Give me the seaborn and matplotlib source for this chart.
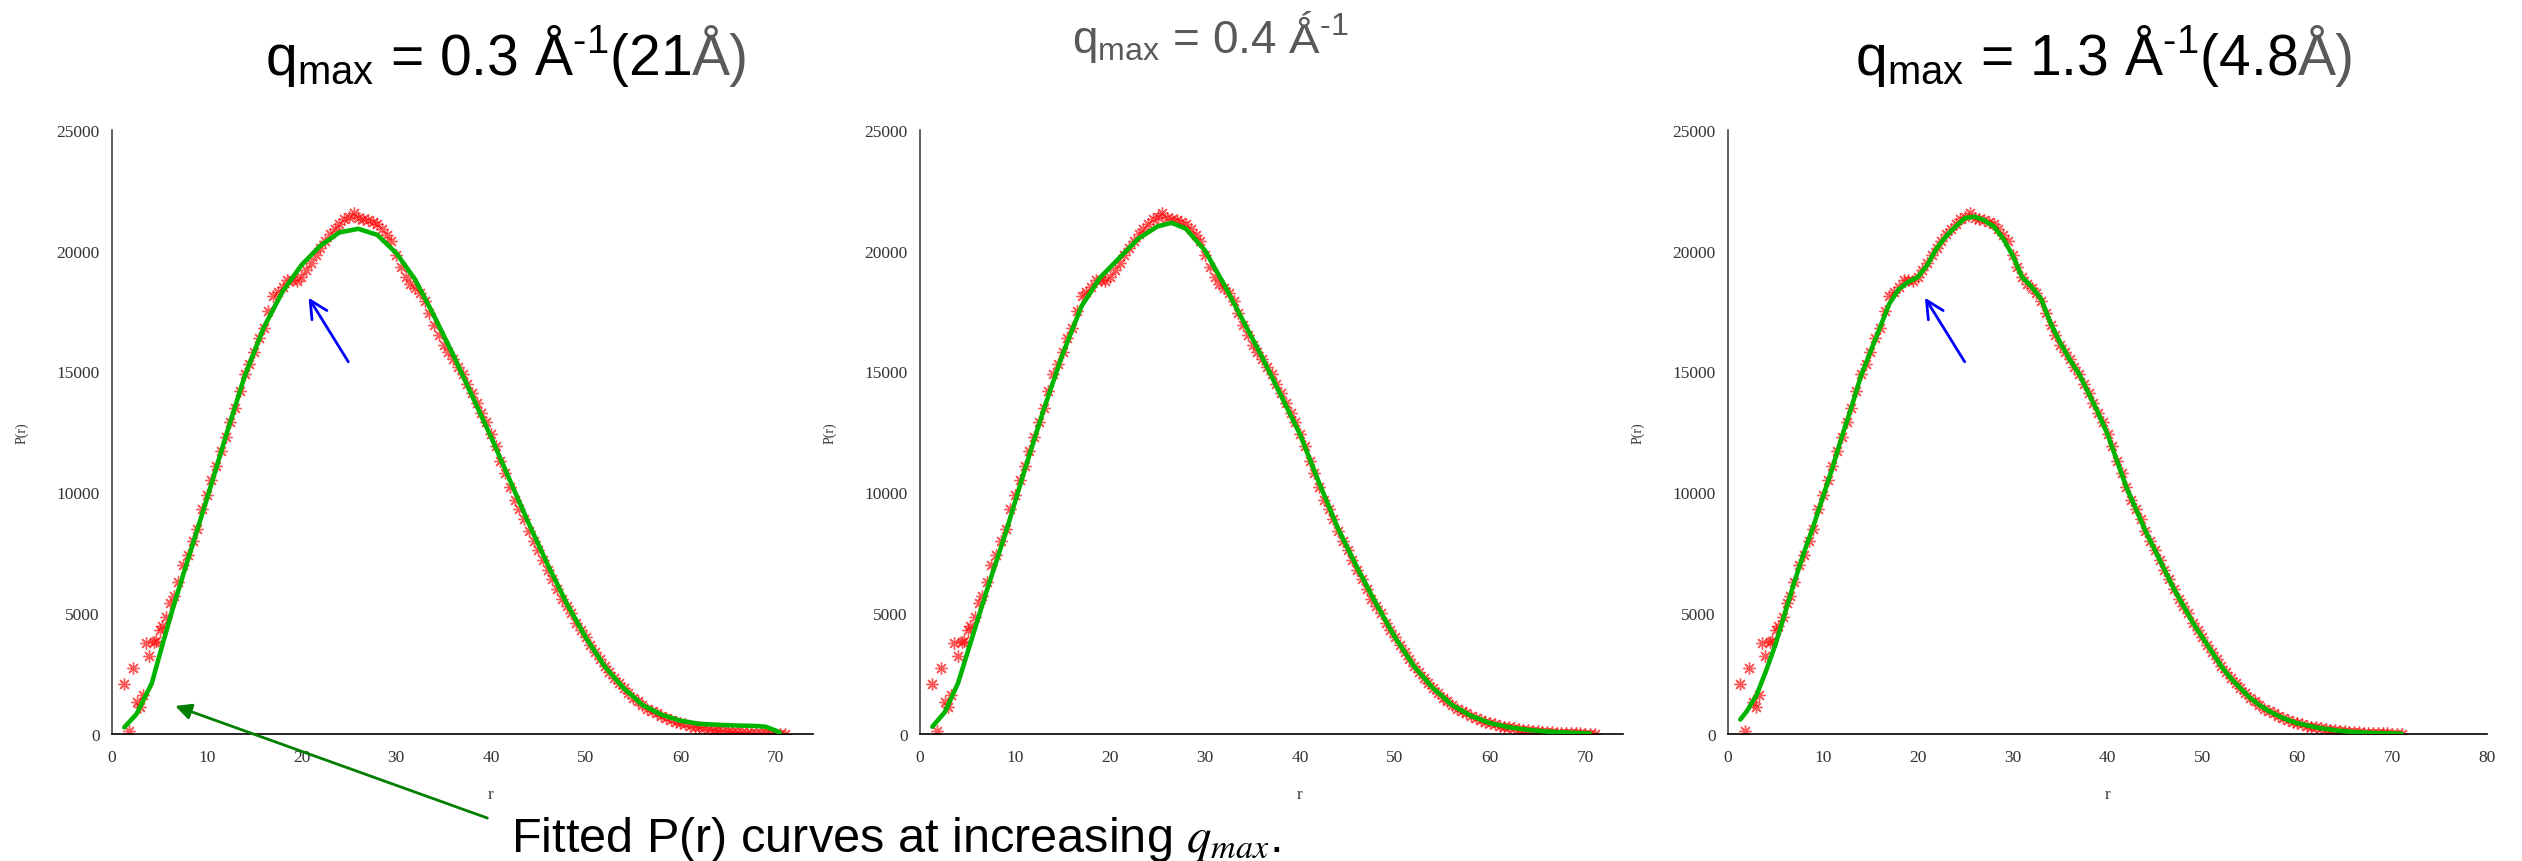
import matplotlib
matplotlib.use('Agg')
from matplotlib import pyplot as plt
from matplotlib import transforms
import seaborn as sns
import pandas as pd

# measured P(r) (red asterisks, identical in all three panels)
r_data = [1.26, 1.82, 2.24, 2.6, 2.95, 3.3, 3.54, 3.95, 4.42, 4.6, 5.05, 5.3, 5.75, 6.17,
          6.5, 7.0, 7.5, 8.0, 8.5, 9.0, 9.5, 10.0, 10.5, 11.0, 11.5, 12.0, 12.5, 13.0, 13.5,
          14.0, 14.5, 15.0, 15.5, 16.0, 16.5, 17.0, 17.5, 18.0, 18.5, 19.0, 19.5, 20.0, 20.5,
          21.0, 21.5, 22.0, 22.5, 23.0, 23.5, 24.0, 24.5, 25.0, 25.5, 26.0, 26.5, 27.0, 27.5,
          28.0, 28.5, 29.0, 29.5, 30.0, 30.5, 31.0, 31.5, 32.0, 32.5, 33.0, 33.5, 34.0, 34.5,
          35.0, 35.5, 36.0, 36.5, 37.0, 37.5, 38.0, 38.5, 39.0, 39.5, 40.0, 40.5, 41.0, 41.5,
          42.0, 42.5, 43.0, 43.5, 44.0, 44.5, 45.0, 45.5, 46.0, 46.5, 47.0, 47.5, 48.0, 48.5,
          49.0, 49.5, 50.0, 50.5, 51.0, 51.5, 52.0, 52.5, 53.0, 53.5, 54.0, 54.5, 55.0, 55.5,
          56.0, 56.5, 57.0, 57.5, 58.0, 58.5, 59.0, 59.5, 60.0, 60.5, 61.0, 61.5, 62.0, 62.5,
          63.0, 63.5, 64.0, 64.5, 65.0, 65.5, 66.0, 66.5, 67.0, 67.5, 68.0, 68.5, 69.0, 69.5,
          70.0, 70.5, 71.0]
p_data = [2070, 110, 2750, 1310, 1110, 1620, 3750, 3210, 3790, 3850, 4310, 4480, 4860, 5440,
          5700, 6300, 7000, 7400, 8000, 8500, 9300, 9900, 10500, 11100, 11700, 12300, 12900, 13500, 14200,
          14900, 15300, 15800, 16400, 16800, 17500, 18100, 18300, 18500, 18800, 18800, 18750, 18900, 19200,
          19500, 19800, 20100, 20400, 20700, 20900, 21100, 21300, 21400, 21550, 21350, 21300, 21250, 21200,
          21100, 20900, 20650, 20400, 19800, 19300, 18900, 18600, 18450, 18250, 17900, 17400, 16900, 16500,
          16100, 15800, 15500, 15200, 14900, 14500, 14100, 13700, 13300, 12900, 12400, 11900, 11300, 10800,
          10200, 9700, 9300, 8900, 8400, 8000, 7600, 7200, 6800, 6400, 6000, 5600, 5300, 5000,
          4600, 4300, 4000, 3700, 3400, 3100, 2800, 2550, 2300, 2100, 1900, 1700, 1500, 1350,
          1200, 1050, 950, 850, 750, 650, 580, 500, 450, 400, 350, 300, 270, 230,
          200, 180, 150, 130, 110, 100, 80, 70, 60, 50, 40, 40, 30, 30,
          20, 10, 10]

# fitted P(r) curves (green)
r_fit_03 = [1.3, 2.6, 4.2, 5.4, 6.5, 8, 10, 12, 14, 16, 18, 20, 22, 24, 26, 28, 30, 32, 34, 36,
            38, 40, 42, 44, 46, 48, 50, 52, 54, 56, 58, 60, 62, 64, 66, 68, 69, 70, 70.5]
p_fit_03 = [275, 830, 2100, 3800, 5300, 7200, 9700, 12300, 14800, 16800, 18300, 19400, 20200, 20750,
            20900, 20650, 19900, 18800, 17300, 15700, 14000, 12300, 10500, 8700, 7000, 5400, 4000, 2800,
            1900, 1200, 800, 550, 420, 380, 350, 330, 300, 150, 60]
r_fit_04 = [1.3, 2.6, 4, 5.5, 7, 9, 11, 13, 15, 17, 19, 21, 23, 25, 26.5, 28, 30, 32, 34, 36, 38,
            40, 42, 44, 46, 48, 50, 52, 54, 56, 58, 60, 62, 64, 66, 68, 70, 70.5]
p_fit_04 = [300, 900, 2100, 4000, 5900, 8300, 10900, 13400, 15700, 17700, 18900, 19700, 20500, 21000,
            21150, 20900, 20000, 18600, 17100, 15600, 14000, 12400, 10400, 8500, 6900, 5400, 4000, 2800,
            1900, 1200, 750, 450, 280, 170, 100, 60, 30, 20]
r_fit_13 = [1.3, 2, 3, 4, 5, 6, 7, 8, 9, 10, 11, 12, 13, 14, 15, 16, 17, 18, 19, 20, 21, 22, 23, 24,
            25, 26, 27, 28, 29, 30, 31, 32, 33, 34, 35, 36, 37, 38, 39, 40, 41, 42, 43, 44, 45, 46,
            47, 48, 49, 50, 51, 52, 53, 54, 55, 56, 57, 58, 59, 60, 62, 64, 66, 68, 70, 71]
p_fit_13 = [600, 950, 1600, 2600, 3700, 5000, 6300, 7500, 8600, 9800, 11000, 12300, 13500, 14800,
            15800, 16800, 17800, 18400, 18700, 18900, 19400, 20100, 20600, 21000, 21350, 21400, 21250,
            21000, 20500, 19800, 18900, 18500, 18000, 17000, 16200, 15500, 14900, 14100, 13300, 12400,
            11300, 10200, 9300, 8400, 7600, 6800, 6000, 5300, 4600, 4000, 3400, 2800, 2300, 1900, 1500,
            1200, 950, 750, 580, 450, 270, 150, 80, 40, 20, 10]

x_ticks_short = [0, 10, 20, 30, 40, 50, 60, 70]
x_ticks_long = [0, 10, 20, 30, 40, 50, 60, 70, 80]
y_ticks = [0, 5000, 10000, 15000, 20000, 25000]

W, H = 2522, 862
GRAY = '#595959'


def draw_panel(ax, r_fit, p_fit, xmax, xticks, blue_arrow):
    sns.scatterplot(x=r_data, y=p_data, ax=ax, marker=(8, 2, 0), s=70, color='red',
                    linewidth=1.0, alpha=0.65, legend=False, zorder=2)
    sns.lineplot(x=r_fit, y=p_fit, ax=ax, color='#00b400', lw=3.3, sort=False,
                 estimator=None, zorder=3)
    ax.set_xlim(0, xmax)
    ax.set_ylim(0, 25000)
    ax.set_xticks(xticks)
    ax.set_yticks(y_ticks)
    ax.tick_params(direction='in', length=5, width=1, colors='#333333',
                   labelsize=12.5, labelfontfamily='Liberation Serif')
    ax.tick_params(axis='y', pad=9)
    ax.tick_params(axis='x', pad=11)
    for s in ['top', 'right']:
        ax.spines[s].set_visible(False)
    ax.spines['left'].set_color('#444444')
    ax.spines['bottom'].set_color('black')
    ax.spines['left'].set_linewidth(1.2)
    ax.spines['bottom'].set_linewidth(1.2)
    ax.set_xlabel('r', fontsize=12.5, family='Liberation Serif', color='#333333')
    ax.set_ylabel('P(r)', fontsize=10, family='Liberation Serif', color='#333333')
    bbox = ax.get_position()
    w_px = bbox.width * W
    ax.yaxis.set_label_coords(-83 / w_px, 0.5)
    ax.xaxis.set_label_coords(40, -0.086,
                              transform=transforms.blended_transform_factory(ax.transData, ax.transAxes))
    if blue_arrow:
        ax.annotate('', xy=(20.6, 18150), xytext=(25.1, 15300),
                    arrowprops=dict(arrowstyle='->, head_length=0.7, head_width=0.35',
                                    color='blue', lw=2, mutation_scale=18))


sns.set_style('white')
plt.rcParams['font.family'] = ['Liberation Sans', 'DejaVu Sans']

fig = plt.figure(figsize=(W / 100, H / 100), dpi=100)
bottom, height = 127 / H, 604.3 / H
ax1 = fig.add_axes([112 / W, bottom, 701 / W, height])
ax2 = fig.add_axes([920 / W, bottom, 703 / W, height])
ax3 = fig.add_axes([1728 / W, bottom, 759 / W, height])

draw_panel(ax1, r_fit_03, p_fit_03, 74, x_ticks_short, True)
draw_panel(ax2, r_fit_04, p_fit_04, 74, x_ticks_short, False)
draw_panel(ax3, r_fit_13, p_fit_13, 80, x_ticks_long, True)

renderer = fig.canvas.get_renderer()


def split_title(x_px, base_px, black, gray, size):
    t = fig.text(x_px / W, 1 - base_px / H, black, fontsize=size, color='black', va='baseline')
    bb = t.get_window_extent(renderer)
    fig.text(bb.x1 / W, 1 - base_px / H, gray, fontsize=size, color=GRAY, va='baseline')


sup = r'$^{\mathregular{\u2010 1}}$'.replace(r'\u2010 ', '\u2010')
split_title(265, 75, r'q$_{\mathregular{max}}$ = 0.3 Å' + sup + '(21', 'Å)', 41)
fig.text(1072 / W, 1 - 53 / H, r'q$_{\mathregular{max}}$ = 0.4 Ǻ' + sup,
         fontsize=33, color=GRAY, va='baseline')
split_title(1855, 75, r'q$_{\mathregular{max}}$ = 1.3 Å' + sup + '(4.8', 'Å)', 41)

# green pointer and caption
ax1.annotate('', xy=(6.4, 1200), xycoords='data',
             xytext=(490 / W, 1 - 820 / H), textcoords='figure fraction',
             arrowprops=dict(arrowstyle='-|>', color='#007f00', lw=2, mutation_scale=24))
fig.text(511 / W, 1 - 852 / H, r'Fitted P(r) curves at increasing $q_{max}$.',
         fontsize=35, color='black', va='baseline', math_fontfamily='stix')

plt.savefig('out.png', dpi=100)
